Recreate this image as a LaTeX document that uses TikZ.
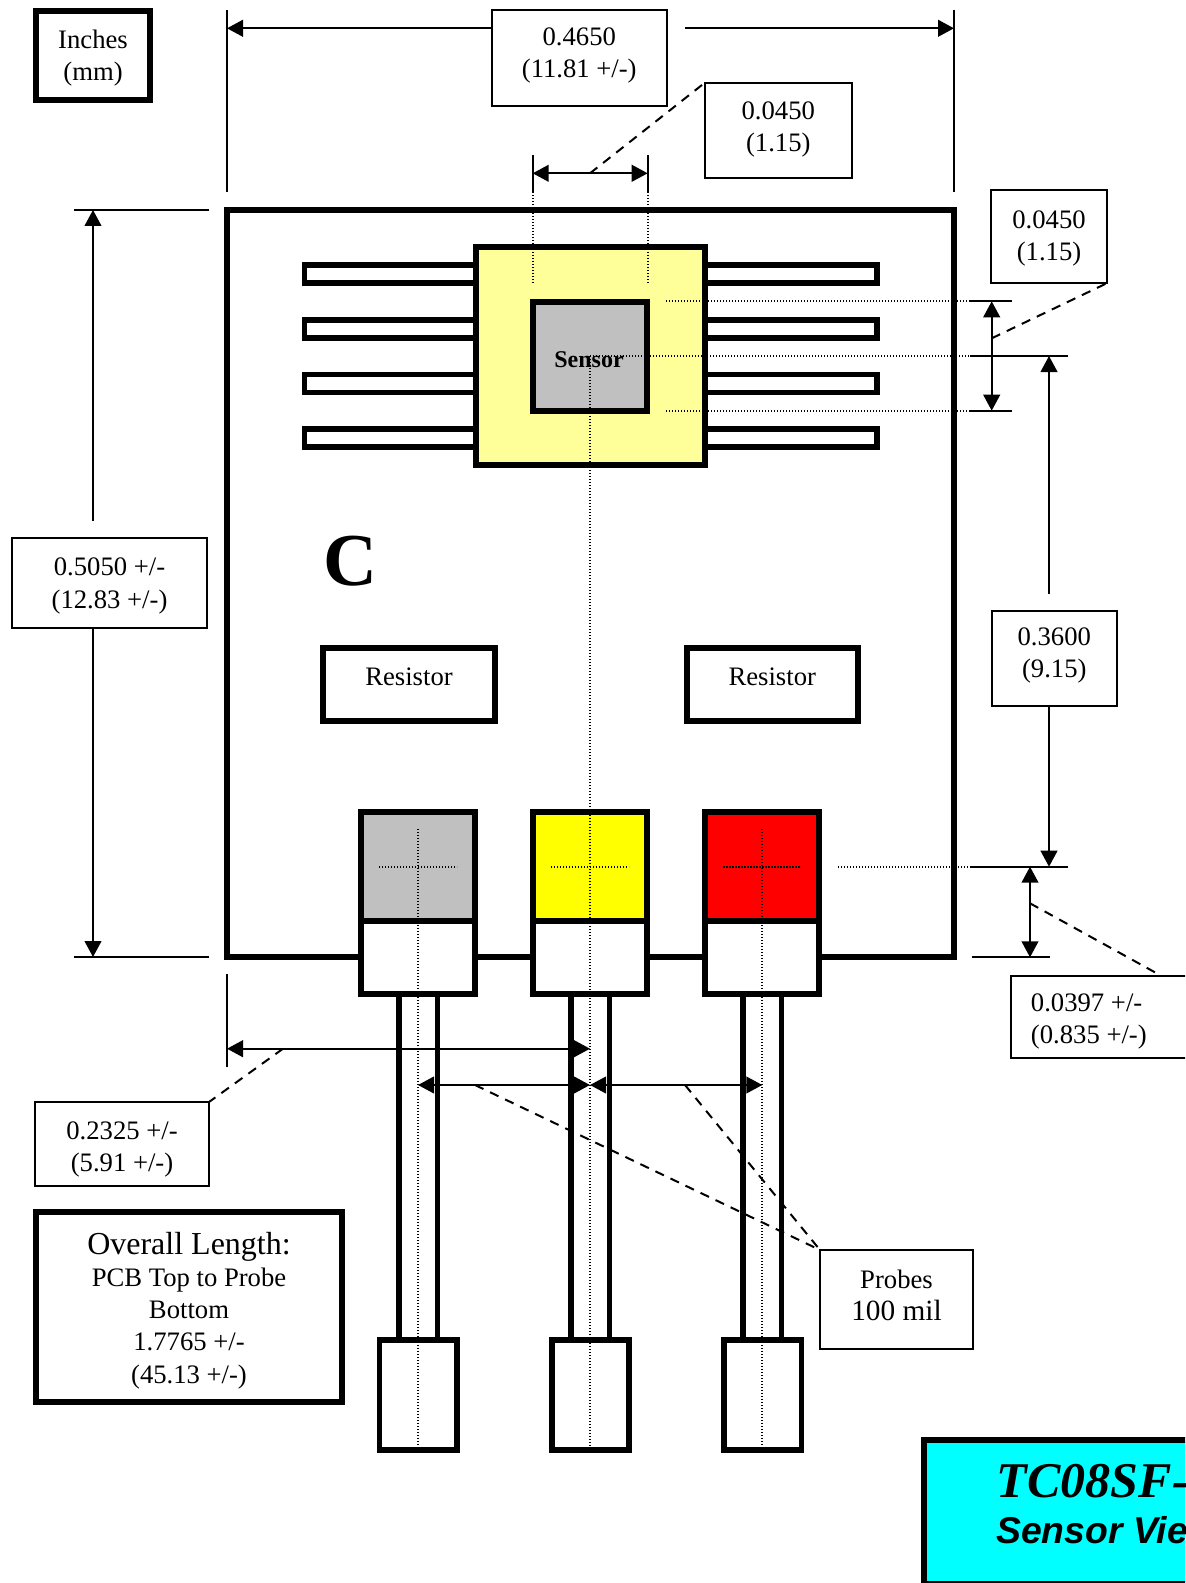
\documentclass[tikz,border=0pt]{standalone}
\usepackage{fontspec}
\setmainfont{Liberation Serif}
\newfontfamily\arialf{Liberation Sans}
\usetikzlibrary{arrows.meta}
\definecolor{chipy}{HTML}{FFFF99}
\definecolor{greyf}{HTML}{C0C0C0}
\definecolor{pureyellow}{HTML}{FFFF00}
\definecolor{purered}{HTML}{FF0000}
\definecolor{purecyan}{HTML}{00FFFF}
\tikzset{
  thick box/.style={draw=black,line width=4.5pt,fill=white},
  thin box/.style={draw=black,line width=1.5pt,fill=white},
  pinbox/.style={draw=black,line width=4pt,fill=white},
  dim/.style={line width=1.6pt,{Triangle[length=12pt,width=12.5pt]}-{Triangle[length=12pt,width=12.5pt]}},
  dimone/.style={line width=1.6pt,-{Triangle[length=12pt,width=12.5pt]}},
  ext/.style={line width=1.3pt},
  dots/.style={line width=1.4pt,dash pattern=on 1.1pt off 1.15pt},
  leader/.style={line width=1.5pt,dash pattern=on 7pt off 5.5pt},
  probeline/.style={line width=4pt},
}
\newcommand{\bx}[7]{%
  \pgfmathsetmacro\cxx{(#3+#5)/2}\pgfmathsetmacro\cyy{(#4+#6)/2}%
  \pgfmathsetmacro\www{(#5-#3)*.75}\pgfmathsetmacro\hhh{(#6-#4)*.75}%
  \node[#2,minimum width=\www pt,minimum height=\hhh pt,inner sep=0pt,outer sep=0pt] (#1) at (\cxx,\cyy) {#7};}
\newcommand{\tl}[2]{\smash{\raisebox{#1}{\fontsize{20}{24.2}\selectfont\begin{tabular}{@{}c@{}}#2\end{tabular}}}}
\begin{document}
\begin{tikzpicture}[x=0.75pt,y=-0.75pt]
\useasboundingbox (0,0) rectangle (1185,1583);
\clip (0,0) rectangle (1185,1583);
% PCB
\bx{pcb}{thick box}{227}{210}{954}{957}{}
% pins
\foreach \n/\t in {1/265,2/320,3/374.3,4/429}{
  \pgfmathsetmacro\bb{\t+18}
  \bx{pl\n}{pinbox}{304.5}{\t}{480}{\bb}{}
  \bx{pr\n}{pinbox}{700}{\t}{877}{\bb}{}
}
% chip and sensor
\bx{chip}{thick box,fill=chipy}{475.7}{247}{704.7}{465}{}
\bx{sensor}{thick box,fill=greyf}{533}{302}{647}{410.5}{}
% resistors
\bx{res1}{thick box}{323}{648}{495}{721}{\tl{-1pt}{Resistor}}
\bx{res2}{thick box}{686.5}{648}{858}{721}{\tl{-1pt}{Resistor}}
% C
\node[font=\bfseries\fontsize{56}{56}\selectfont,anchor=base,inner sep=0pt] (cmark) at (350,585) {C};
% probes
\foreach \n/\a/\b/\c/\d in {1/399/437.3/379.5/457,2/571/609.3/552/629,3/743/781.3/724/801.5}{
  \coordinate (pa\n) at (\a,994); \coordinate (pb\n) at (\b,994);
  \coordinate (qa\n) at (\a,1340); \coordinate (qb\n) at (\b,1340);
  \draw[probeline] (pa\n) -- (qa\n);
  \draw[probeline] (pb\n) -- (qb\n);
  \bx{tip\n}{pinbox}{\c}{1340}{\d}{1450}{}
}
% terminals
\bx{ta1}{thick box,fill=greyf}{361.3}{812}{474.7}{920.7}{}
\bx{tb1}{thick box}{361.3}{920.7}{474.7}{994}{}
\bx{ta2}{thick box,fill=pureyellow}{533}{812}{647}{920.7}{}
\bx{tb2}{thick box}{533}{920.7}{647}{994}{}
\bx{ta3}{thick box,fill=purered}{705.3}{812}{819.3}{920.7}{}
\bx{tb3}{thick box}{705.3}{920.7}{819.3}{994}{}
% dotted centre lines
\foreach \n/\x in {1/418,2/590,3/762.3}{
  \pgfmathsetmacro\xa{\x-39}\pgfmathsetmacro\xb{\x+39}
  \coordinate (cl\n) at (\xa,866.7); \coordinate (cr\n) at (\xb,866.7);
  \draw[dots] (cl\n) -- (cr\n);
}
\draw[dots] (418,829) -- (418,1450);
\draw[dots] (762.3,829) -- (762.3,1450);
\coordinate (scen) at (590,356);
\draw[dots] (scen) -- (590,1450);
\coordinate (e1) at (970,301.3); \coordinate (e2) at (970,356); \coordinate (e3) at (970,410.7); \coordinate (e4) at (970,866.7);
\draw[dots] (666,301.3) -- (e1);
\draw[dots] (scen) -- (e2);
\draw[dots] (666,410.7) -- (e3);
\draw[dots] (838,866.7) -- (e4);
\node[font=\bfseries\fontsize{18}{18}\selectfont,anchor=base,inner sep=0pt] (senslabel) at (589,367.7) {Sensor};
% top dimension
\bx{inch}{thick box}{36}{11}{150}{100}{\tl{-7pt}{Inches\\(mm)}}
\bx{d4650}{thin box}{491.5}{10}{667}{106}{\tl{-3pt}{0.4650\\(11.81 +/-)}}
\coordinate (tl) at (227,28.3); \coordinate (tr) at (954,28.3);
\draw[ext] (227,10) -- (227,192);
\draw[ext] (954,10) -- (954,192);
\draw[dimone] (d4650.west |- tl) -- (tl);
\draw[dimone] (685,28.3) -- (tr);
% sensor width
\bx{d0450a}{thin box}{704.5}{83}{852}{178}{\tl{-4pt}{0.0450\\(1.15)}}
\coordinate (sl) at (532.7,173.3); \coordinate (sr) at (647.7,173.3); \coordinate (sm) at (590,173.3);
\draw[ext] (532.7,155) -- (532.7,192);
\draw[ext] (647.7,155) -- (647.7,192);
\draw[dots] (532.7,192) -- (532.7,284);
\draw[dots] (647.7,192) -- (647.7,284);
\draw[dim] (sl) -- (sr);
\draw[leader] (sm) -- (d0450a.north west);
% right dimensions
\bx{d0450b}{thin box}{991.3}{190}{1106.7}{283.3}{\tl{-6.5pt}{0.0450\\(1.15)}}
\draw[ext] (e1) -- (1011.7,301.3);
\draw[ext] (e2) -- (1068.3,356);
\draw[ext] (e3) -- (1011.7,410.7);
\coordinate (a1) at (991.7,301.3); \coordinate (a2) at (991.7,410.7); \coordinate (a3) at (991.7,338.3);
\draw[dim] (a1) -- (a2);
\draw[leader] (a3) -- (d0450b.south east);
\bx{d3600}{thin box}{992}{610.6}{1116.5}{705.5}{\tl{-3pt}{0.3600\\(9.15)}}
\draw[ext] (e4) -- (1068.3,866.7);
\coordinate (b1) at (1049,356); \coordinate (b2) at (1049,866.7);
\draw[dimone] (1049,593.5) -- (b1);
\draw[dimone] (d3600.south -| b2) -- (b2);
\coordinate (c1) at (1030,866.7); \coordinate (c2) at (1030,957.3); \coordinate (c3) at (1030,903.3);
\draw[ext] (972,957.3) -- (1050,957.3);
\draw[dim] (c1) -- (c2);
\bx{d0397}{thin box}{1010.7}{975.7}{1210}{1057.7}{}
\node[anchor=base west,inner sep=0pt,align=left,font=\fontsize{20}{24.2}\selectfont] (t0397) at (1030.7,1043.5) {0.0397 +/-\\(0.835 +/-)};
\draw[leader] (c3) -- (1158,974);
% left dimension
\bx{d5050}{thin box}{12}{538}{207}{628}{\tl{-7pt}{0.5050 +/-\\(12.83 +/-)}}
\draw[ext] (73.7,210) -- (209,210);
\draw[ext] (73.7,957) -- (209,957);
\coordinate (l1) at (93,210); \coordinate (l2) at (93,957);
\draw[dimone] (93,521) -- (l1);
\draw[dimone] (d5050.south -| l2) -- (l2);
% bottom dimensions
\draw[ext] (227,974) -- (227,1067);
\coordinate (m1) at (227,1048.7); \coordinate (m2) at (590,1048.7); \coordinate (m3) at (283,1048.7);
\draw[dim] (m1) -- (m2);
\bx{d2325}{thin box}{35}{1102}{209}{1186}{\tl{-9pt}{0.2325 +/-\\(5.91 +/-)}}
\draw[leader] (m3) -- (d2325.north east);
\coordinate (n1) at (418,1085); \coordinate (n2) at (590,1085); \coordinate (n3) at (762.3,1085);
\draw[dim] (n1) -- (n2);
\draw[dim] (n2) -- (n3);
\bx{dprobes}{thin box}{820}{1250}{973}{1348.5}{\tl{-4pt}{Probes\\\fontsize{22}{24.2}\selectfont 100 mil}}
\coordinate (o1) at (475,1085); \coordinate (o2) at (685,1085);
\draw[leader] (o1) -- (dprobes.north west);
\draw[leader] (o2) -- (dprobes.north west);
% overall
\bx{overall}{thick box}{36}{1212}{342}{1402}{\tl{-9pt}{\fontsize{24}{24.2}\selectfont Overall Length:\\PCB Top to Probe\\Bottom\\1.7765 +/-\\(45.13 +/-)}}
% title
\bx{title}{thick box,fill=purecyan}{923.7}{1440}{1300}{1584}{}
\node[anchor=base west,inner sep=0pt,font=\bfseries\itshape\fontsize{37.5}{40}\selectfont] (t1) at (996.7,1497.7) {TC08SF-V};
\node[anchor=base west,inner sep=0pt,font=\arialf\bfseries\itshape\fontsize{28}{30}\selectfont] (t2) at (996,1543) {Sensor View};
\end{tikzpicture}
\end{document}
